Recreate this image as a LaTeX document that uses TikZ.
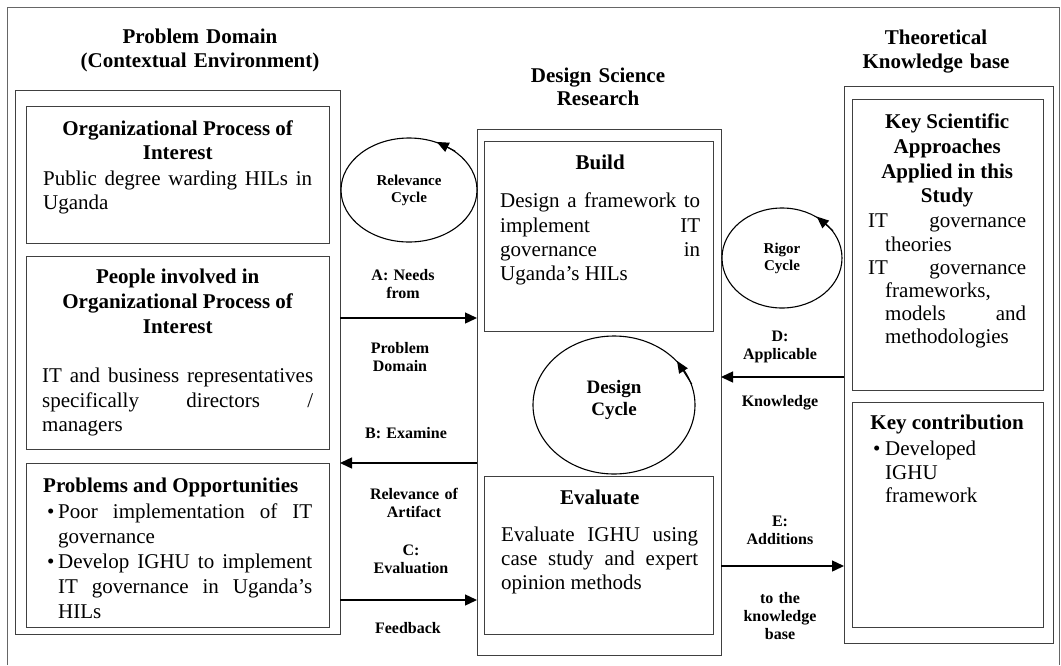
\documentclass[tikz,border=0pt]{standalone}
\usepackage{fontspec}
\setmainfont{Liberation Serif}
\usetikzlibrary{shapes.geometric,arrows.meta}

% type sizes (pt)
\newcommand\bodysize{\fontsize{21}{24}\selectfont}
\newcommand\labsize{\fontsize{16}{18}\selectfont\bfseries}
\newcommand\itembullet[1]{\makebox[#1][l]{\hspace{4pt}\textbullet}}

\tikzset{
  frameline/.style={draw=black!60, line width=0.9pt},
  panel/.style={draw=black!75, line width=0.9pt, anchor=north west,
    inner sep=0pt, outer sep=0pt},
  txt/.style={anchor=north west, inner sep=0pt, font=\bodysize, align=justify,
    execute at begin node={\setlength{\parindent}{0pt}\tolerance=10000
      \hyphenpenalty=10000\exhyphenpenalty=10000}},
  headtext/.style={anchor=north, inner sep=0pt, text width=320pt,
    align=center, font=\bodysize\bfseries},
  lab/.style={anchor=north, inner sep=0pt, text width=120pt,
    align=center, font=\labsize},
  cyc/.style={ellipse, draw, line width=1.1pt, inner sep=0pt, align=center},
  cyclab/.style={inner sep=0pt, align=center},
  flowarrow/.style={line width=1.4pt, -{Triangle[length=12pt,width=11pt]}},
  cycarrow/.style={line width=1.1pt, -{Triangle[length=12pt,width=10pt]}},
}

\begin{document}
\begin{tikzpicture}[x=1pt, y=-1pt]
\useasboundingbox (0,0) rectangle (1061,665);

% outer frame (runs off the lower edge)
\draw[frameline] (7,665) -- (7,7) -- (1059,7) -- (1059,665);

% column headings
\node[headtext] (pdhead) at (200,28.7) {Problem Domain\\(Contextual Environment)};
\node[headtext, font=\fontsize{21}{23}\selectfont\bfseries] (dsrhead) at (598,67.7) {Design Science\\Research};
\node[headtext] (kbhead) at (936,29.7) {Theoretical\\Knowledge base};

% problem domain column
\node[panel, minimum width=325pt, minimum height=544pt] (pd) at (15,90) {};
\node[panel, minimum width=303pt, minimum height=137pt] (org) at (26,106) {};
\node[panel, minimum width=303pt, minimum height=193pt] (people) at (26,256) {};
\node[panel, minimum width=303pt, minimum height=164pt] (probs) at (26,463) {};

\node[txt, text width=269pt] (orgtxt) at (43,120.7) {%
  {\centering\bfseries Organizational Process of\\Interest\par}
  \vspace{2pt}
  Public degree warding HILs in\linebreak Uganda\par};

\node[txt, text width=271pt] (peopletxt) at (42,268.7) {%
  {\fontsize{21}{25}\selectfont\centering\bfseries People involved in\\Organizational Process of\\Interest\par}
  \vspace{25pt}
  {\fontsize{21}{24.5}\selectfont
  IT and business representatives\linebreak specifically directors /\linebreak managers\par}};

\node[txt, text width=269pt] (probstxt) at (43,477.7) {%
  {\bfseries Problems and Opportunities\par}
  \vspace{1pt}
  {\fontsize{21}{25}\selectfont
  \hangindent=15pt\hangafter=1 \itembullet{15pt}Poor implementation of IT\linebreak governance\par
  \hangindent=15pt\hangafter=1 \itembullet{15pt}Develop IGHU to implement\linebreak IT governance in Uganda’s\linebreak HILs\par}};

% design science research column
\node[panel, minimum width=244pt, minimum height=526pt] (dsr) at (477,129) {};
\node[panel, minimum width=229pt, minimum height=190pt] (build) at (484,141) {};
\node[panel, minimum width=229pt, minimum height=158pt] (eval) at (484,476) {};

\node[txt, text width=200pt] (buildtxt) at (500,154.7) {%
  {\centering\bfseries Build\par}
  \vspace{14pt}
  {\fontsize{21}{24.3}\selectfont
  Design a framework to\linebreak implement IT\linebreak governance in\linebreak Uganda’s HILs\par}};

\node[txt, text width=197pt] (evaltxt) at (501,489.7) {%
  {\centering\bfseries Evaluate\par}
  \vspace{13pt}
  Evaluate IGHU using\linebreak case study and expert\linebreak opinion methods\par};

% knowledge base column
\node[panel, minimum width=209pt, minimum height=557pt] (kb) at (844,86) {};
\node[panel, minimum width=191pt, minimum height=291pt] (ksa) at (852,99) {};
\node[panel, minimum width=191pt, minimum height=225pt] (kc) at (852,402) {};

\node[txt, text width=158pt] (ksatxt) at (868,113.7) {%
  {\fontsize{21}{24.7}\selectfont\centering\bfseries Key Scientific\\Approaches\\Applied in this\\Study\par}
  \vspace{2pt}
  {\fontsize{21}{23.2}\selectfont
  \hangindent=17pt\hangafter=1 IT governance\linebreak theories\par
  \hangindent=17pt\hangafter=1 IT governance\linebreak frameworks,\linebreak models and\linebreak methodologies\par}};

\node[txt, text width=158pt] (kctxt) at (868,414.7) {%
  {\centering\bfseries Key contribution\par}
  \vspace{3pt}
  {\fontsize{21}{23.5}\selectfont
  \makebox[17pt][l]{\hspace{5pt}\textbullet}\parbox[t]{140pt}{Developed\\IGHU\\framework}\par}};

% the three cycles
\node[cyc, minimum width=136pt, minimum height=104pt,
  font=\fontsize{15}{17}\selectfont\bfseries] (relc) at (409,190) {Relevance\\Cycle};
\node[cyc, minimum width=162pt, minimum height=138pt] (desc) at (614,405) {};
\node[cyclab, font=\fontsize{19}{22}\selectfont\bfseries] (desclab) at (614,400) {Design\\Cycle};
\node[cyc, minimum width=120pt, minimum height=100pt,
  font=\fontsize{15}{17}\selectfont\bfseries] (rigc) at (782,258) {Rigor\\Cycle};

\draw[cycarrow] (relc.40) -- (relc.60);
\draw[cycarrow] (desc.15) -- (desc.35);
\draw[cycarrow] (rigc.28) -- (rigc.50);

% flows between the columns
\coordinate (ya) at (0,318);
\coordinate (yb) at (0,463);
\coordinate (yc) at (0,600);
\coordinate (yd) at (0,377);
\coordinate (ye) at (0,566);

\draw[flowarrow] (pd.east |- ya) -- (dsr.west |- ya);
\draw[flowarrow] (dsr.west |- yb) -- (pd.east |- yb);
\draw[flowarrow] (pd.east |- yc) -- (dsr.west |- yc);
\draw[flowarrow] (kb.west |- yd) -- (dsr.east |- yd);
\draw[flowarrow] (dsr.east |- ye) -- (kb.west |- ye);

% flow labels
\node[lab] (la1) at (403,269) {A: Needs\\from};
\node[lab] (la2) at (400,342) {Problem\\Domain};
\node[lab] (lb1) at (406,427) {B: Examine};
\node[lab] (lb2) at (414,488) {Relevance of\\Artifact};
\node[lab] (lc1) at (411,545) {C:\\Evaluation};
\node[lab] (lc2) at (408,622) {Feedback};
\node[lab] (ld1) at (780,331) {D:\\Applicable};
\node[lab] (ld2) at (780,395) {Knowledge};
\node[lab] (le1) at (780,516) {E:\\Additions};
\node[lab] (le2) at (780,592) {to the\\knowledge\\base};
\end{tikzpicture}
\end{document}
